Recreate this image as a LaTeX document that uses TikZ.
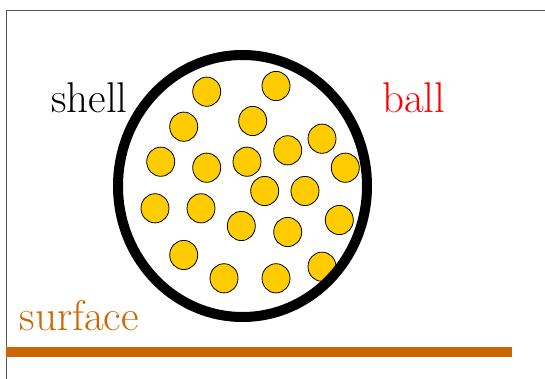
\documentclass[tikz,border=0pt]{standalone}
\usepackage{xcolor}
\usetikzlibrary{positioning}
\definecolor{balgold}{HTML}{FFCC00}
\definecolor{balred}{HTML}{FF0000}
\definecolor{balorange}{HTML}{CC6600}
\definecolor{balframe}{HTML}{555555}

\begin{document}
\begin{tikzpicture}[x=1pt, y=-1pt,
  tag/.style={anchor=base west, inner sep=0pt, font=\fontsize{43}{43}\selectfont},
  grain/.style={draw=black, fill=balgold, line width=0.8pt},
]
  \useasboundingbox (0,0) rectangle (545,379);
  % frame
  \draw[balframe, line width=1pt] (6,379) -- (6,11) -- (545,11);
  % surface
  \coordinate (surfL) at (6,351.5);
  \coordinate (surfR) at (512,351.5);
  \draw[balorange, line width=10pt] (surfL) -- (surfR);
  % grains inside the ball
  \foreach \gx/\gy in {206.7/91.7, 276/86, 183.7/126.7, 252.7/121, 322/138.7,
      287.7/150.3, 160.7/161.7, 206.7/167.7, 247/161.7, 345.3/167.7,
      264.7/191, 305/191, 155/208.3, 201/208.3, 241.3/226, 287.7/232,
      339.3/220, 183.7/255, 224/278.3, 276/278.3, 322/266.7}
    \draw[grain] (\gx,\gy) ellipse [x radius=14, y radius=14.6];
  % shell
  \draw[black, line width=10pt] (242.5,186) ellipse [x radius=124.5, y radius=131];
  % labels
  \node[tag] (shell) at (51,113) {shell};
  \node[tag, text=balred] (ball) at (382,113) {ball};
  \node[tag, text=balorange] (surface) at (19.5,330) {surface};
\end{tikzpicture}
\end{document}
